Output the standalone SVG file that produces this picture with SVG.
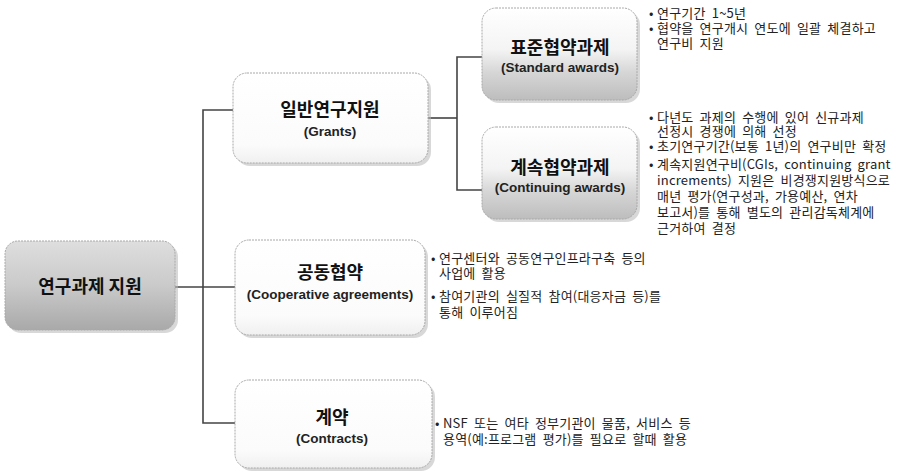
<svg xmlns="http://www.w3.org/2000/svg" width="909" height="471" viewBox="0 0 909 471">
<defs>
<linearGradient id="gRoot" x1="0" y1="0" x2="0" y2="1">
<stop offset="0" stop-color="#dedede"/>
<stop offset="0.5" stop-color="#cacaca"/>
<stop offset="1" stop-color="#a9a9a9"/>
</linearGradient>
<linearGradient id="gSub" x1="0" y1="0" x2="0" y2="1">
<stop offset="0" stop-color="#ffffff"/>
<stop offset="0.45" stop-color="#f4f4f4"/>
<stop offset="0.7" stop-color="#d6d6d6"/>
<stop offset="1" stop-color="#bdbdbd"/>
</linearGradient>
<linearGradient id="gMid" x1="0" y1="0" x2="0" y2="1">
<stop offset="0" stop-color="#ffffff"/>
<stop offset="0.8" stop-color="#fbfbfb"/>
<stop offset="1" stop-color="#f0f0f0"/>
</linearGradient>
</defs>
<style>
.box{stroke:#a8a8a8;stroke-width:1;stroke-dasharray:2 1}
.shadow{fill:#b8b8b8;opacity:0.55}
.conn{fill:none;stroke:#444;stroke-width:1.6}
.ttl{font-family:"Noto Sans CJK KR","Noto Sans",sans-serif;font-weight:bold;font-size:18px;fill:#111;text-anchor:middle}
.en{font-family:"Liberation Sans",Arial,sans-serif;font-weight:bold;font-size:13.5px;fill:#222;text-anchor:middle}
.bl{font-family:"Noto Sans CJK KR","Noto Sans",sans-serif;font-size:13px;word-spacing:3px;letter-spacing:0.2px;fill:#222}
</style>
<rect width="909" height="471" fill="#ffffff"/>

<g id="connectors">
<path class="conn" d="M175,287 H235"/>
<path class="conn" d="M233,110 H203 V423 H235"/>
<path class="conn" d="M428,118 H457"/>
<path class="conn" d="M482,57 H457 V190 H482"/>
</g>

<g id="root">
<rect class="shadow" x="8" y="244" width="170" height="89" rx="13"/>
<rect class="box" x="5" y="241" width="170" height="89" rx="13" fill="url(#gRoot)"/>
<text class="ttl" x="90" y="293">연구과제 지원</text>
</g>

<g id="grants">
<rect class="shadow" x="236" y="76" width="195" height="90" rx="14"/>
<rect class="box" x="233" y="73" width="195" height="90" rx="14" fill="url(#gMid)"/>
<text class="ttl" x="330" y="116">일반연구지원</text>
<text class="en" x="330" y="136">(Grants)</text>
</g>

<g id="standard">
<rect class="shadow" x="485" y="11" width="155" height="92" rx="14"/>
<rect class="box" x="482" y="8" width="155" height="92" rx="14" fill="url(#gSub)"/>
<text class="ttl" x="560" y="54">표준협약과제</text>
<text class="en" x="560" y="72">(Standard awards)</text>
</g>

<g id="continuing">
<rect class="shadow" x="485" y="130" width="155" height="92" rx="14"/>
<rect class="box" x="482" y="127" width="155" height="92" rx="14" fill="url(#gSub)"/>
<text class="ttl" x="560" y="174">계속협약과제</text>
<text class="en" x="560" y="192">(Continuing awards)</text>
</g>

<g id="cooperative">
<rect class="shadow" x="238" y="243" width="190" height="95" rx="14"/>
<rect class="box" x="235" y="240" width="190" height="95" rx="14" fill="url(#gMid)"/>
<text class="ttl" x="330" y="279">공동협약</text>
<text class="en" x="330" y="299">(Cooperative agreements)</text>
</g>

<g id="contracts">
<rect class="shadow" x="238" y="383" width="197" height="88" rx="14"/>
<rect class="box" x="235" y="380" width="197" height="88" rx="14" fill="url(#gMid)"/>
<text class="ttl" x="332" y="424">계약</text>
<text class="en" x="332" y="443">(Contracts)</text>
</g>

<g id="notes-standard">
<text class="bl"><tspan x="649" y="18">•</tspan><tspan x="657" y="18">연구기간 1~5년</tspan><tspan x="649" y="33">•</tspan><tspan x="657" y="33">협약을 연구개시 연도에 일괄 체결하고</tspan><tspan x="657" y="48">연구비 지원</tspan></text>
</g>

<g id="notes-continuing">
<text class="bl"><tspan x="649" y="122">•</tspan><tspan x="657" y="122">다년도 과제의 수행에 있어 신규과제</tspan><tspan x="657" y="136">선정시 경쟁에 의해 선정</tspan><tspan x="649" y="151">•</tspan><tspan x="657" y="151">초기연구기간(보통 1년)의 연구비만 확정</tspan><tspan x="649" y="169">•</tspan><tspan x="657" y="169">계속지원연구비(CGIs, continuing grant</tspan><tspan x="657" y="185">increments) 지원은 비경쟁지원방식으로</tspan><tspan x="657" y="201">매년 평가(연구성과, 가용예산, 연차</tspan><tspan x="657" y="217">보고서)를 통해 별도의 관리감독체계에</tspan><tspan x="657" y="233">근거하여 결정</tspan></text>
</g>

<g id="notes-cooperative">
<text class="bl"><tspan x="431" y="263">•</tspan><tspan x="439" y="263">연구센터와 공동연구인프라구축  등의</tspan><tspan x="439" y="278">사업에 활용</tspan><tspan x="431" y="301">•</tspan><tspan x="439" y="301">참여기관의 실질적 참여(대응자금 등)를</tspan><tspan x="439" y="317">통해 이루어짐</tspan></text>
</g>

<g id="notes-contracts">
<text class="bl"><tspan x="435" y="428">•</tspan><tspan x="443" y="428">NSF 또는 여타 정부기관이 물품, 서비스 등</tspan><tspan x="443" y="444">용역(예:프로그램 평가)를 필요로 할때 활용</tspan></text>
</g>
</svg>
